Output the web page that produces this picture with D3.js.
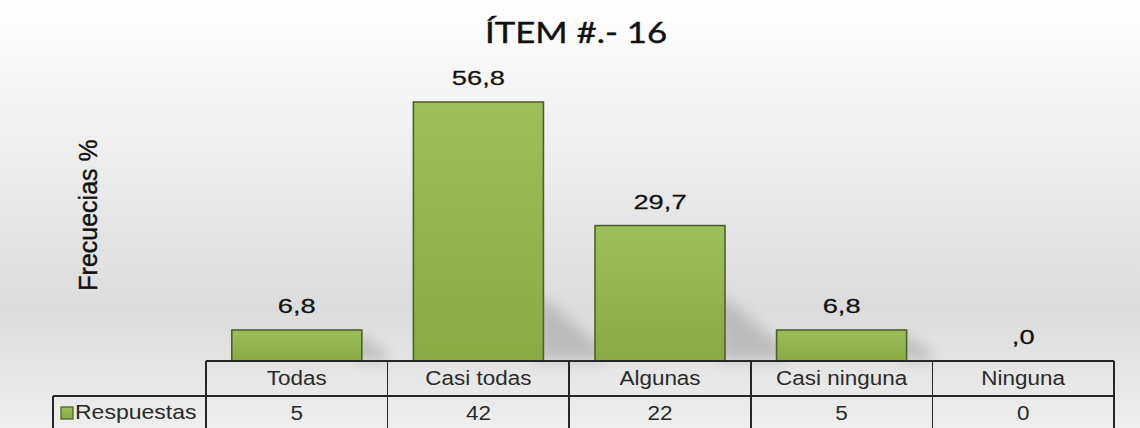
<!DOCTYPE html>
<meta charset="utf-8">
<head>
<style>
  body { margin: 0; background: #fff; }
  svg text { font-family: "Liberation Sans", Arial, sans-serif; fill: #111; }
</style>
</head>
<body>
  <script src="https://d3js.org/d3.v7.min.js"></script>
  <script>
    // datos del item 16
    var categorias = ["Todas", "Casi todas", "Algunas", "Casi ninguna", "Ninguna"];
    var porcentajes = [6.8, 56.8, 29.7, 6.8, 0.0];
    var respuestas = [5, 42, 22, 5, 0];
    var serie = "Respuestas";
    var titulo = "ÍTEM #.- 16";
    var tituloY = "Frecuecias %";

    var width = 1140, height = 428;

    var locale = d3.formatLocale({ decimal: ",", thousands: ".", grouping: [3], currency: ["", ""] });
    var fmt = function (v) { return locale.format(".1f")(v).replace(/^0,/, ","); };

    var svg = d3.select("body").append("svg")
      .attr("width", width)
      .attr("height", height);

    var defs = svg.append("defs");

    var bg = defs.append("linearGradient").attr("id", "fondo")
      .attr("x1", 0).attr("y1", 0).attr("x2", 0).attr("y2", 1);
    bg.append("stop").attr("offset", "0%").attr("stop-color", "#ffffff");
    bg.append("stop").attr("offset", "72%").attr("stop-color", "#dcdcdc");
    bg.append("stop").attr("offset", "100%").attr("stop-color", "#eeeeee");

    var verde = defs.append("linearGradient").attr("id", "verde")
      .attr("x1", 0).attr("y1", 0).attr("x2", 0).attr("y2", 1);
    verde.append("stop").attr("offset", "0%").attr("stop-color", "#9dbf5b");
    verde.append("stop").attr("offset", "100%").attr("stop-color", "#89a945");

    defs.append("filter").attr("id", "blur")
      .attr("x", "-50%").attr("y", "-50%").attr("width", "200%").attr("height", "200%")
      .append("feGaussianBlur").attr("stdDeviation", 7);

    svg.append("rect")
      .attr("width", width)
      .attr("height", height)
      .attr("fill", "url(#fondo)");

    // escalas
    var x = d3.scaleBand()
      .domain(categorias)
      .range([206, 1114])
      .paddingInner(0.284)
      .paddingOuter(0.142);

    var y = d3.scaleLinear()
      .domain([0, 60])
      .range([361, 87.4]);

    var datos = categorias.map(function (c, i) {
      return { cat: c, pct: porcentajes[i], n: respuestas[i] };
    });

    var base = y(0);

    // sombras
    svg.append("g").selectAll("path")
      .data(datos.filter(function (d) { return d.pct > 0; }))
      .enter().append("path")
      .attr("d", function (d) {
        var h = base - y(d.pct), x1 = x(d.cat) + x.bandwidth();
        var s = Math.min(h, 70);
        return "M" + (x1 - 6) + "," + (base - s * 0.95) +
          "L" + (x1 + s * 0.85) + "," + (base - s * 0.2) +
          "L" + (x1 + s * 0.85) + "," + base +
          "L" + (x1 - 6) + "," + base + "Z";
      })
      .attr("fill", "#707070")
      .attr("opacity", 0.32)
      .attr("filter", "url(#blur)");

    // barras
    svg.append("g").selectAll("rect")
      .data(datos)
      .enter().append("rect")
      .attr("x", function (d) { return x(d.cat); })
      .attr("y", function (d) { return y(d.pct); })
      .attr("width", x.bandwidth())
      .attr("height", function (d) { return base - y(d.pct); })
      .attr("fill", "url(#verde)")
      .attr("stroke", "#4f6228")
      .attr("stroke-width", 1.6);

    // etiquetas de valor
    svg.append("g").selectAll("text")
      .data(datos)
      .enter().append("text")
      .attr("transform", function (d) {
        return "translate(" + (x(d.cat) + x.bandwidth() / 2) + "," + (y(d.pct) - 17) + ") scale(1.3,1)";
      })
      .attr("text-anchor", "middle")
      .style("font-size", "21px")
      .style("stroke", "#111")
      .style("stroke-width", 0.25)
      .text(function (d) { return fmt(d.pct); });

    // titulo
    svg.append("text")
      .attr("transform", "translate(576,43) scale(1.2,1)")
      .attr("text-anchor", "middle")
      .style("font-family", "Lato, 'Open Sans', sans-serif")
      .style("font-size", "29px")
      .style("stroke", "#111")
      .style("stroke-width", 0.4)
      .text(titulo);

    // eje y
    svg.append("text")
      .attr("transform", "translate(97,215) rotate(-90)")
      .attr("text-anchor", "middle")
      .style("font-size", "25px")
      .style("stroke", "#111")
      .style("stroke-width", 0.4)
      .text(tituloY);

    // tabla de datos
    var step = x.step(), gap = step * x.paddingInner() / 2;
    var left = 206, right = 1114, leyX = 53;
    var r0 = 361, r1 = 396, r2 = 431;
    var bordes = categorias.map(function (c) { return x(c) - gap; }).concat([right]);

    var tabla = svg.append("g")
      .attr("stroke", "#262626")
      .attr("stroke-width", 1.5)
      .attr("shape-rendering", "crispEdges");

    tabla.append("line").attr("x1", left).attr("x2", right).attr("y1", r0).attr("y2", r0);
    tabla.append("line").attr("x1", leyX).attr("x2", right).attr("y1", r1).attr("y2", r1);
    tabla.append("line").attr("x1", leyX).attr("x2", right).attr("y1", r2).attr("y2", r2);
    tabla.append("line").attr("x1", leyX).attr("x2", leyX).attr("y1", r1).attr("y2", r2);
    tabla.selectAll("line.v")
      .data(bordes)
      .enter().append("line")
      .attr("class", "v")
      .attr("x1", function (d) { return d; })
      .attr("x2", function (d) { return d; })
      .attr("y1", r0)
      .attr("y2", r2);

    svg.append("g").selectAll("text")
      .data(datos)
      .enter().append("text")
      .attr("transform", function (d) {
        return "translate(" + (x(d.cat) + x.bandwidth() / 2) + ",385) scale(1.07,1)";
      })
      .attr("text-anchor", "middle")
      .style("font-size", "21px")
      .style("fill", "#2a2a2a")
      .text(function (d) { return d.cat; });

    svg.append("g").selectAll("text")
      .data(datos)
      .enter().append("text")
      .attr("transform", function (d) {
        return "translate(" + (x(d.cat) + x.bandwidth() / 2) + ",420) scale(1.07,1)";
      })
      .attr("text-anchor", "middle")
      .style("font-size", "21px")
      .style("fill", "#2a2a2a")
      .text(function (d) { return d.n; });

    // leyenda
    svg.append("rect")
      .attr("x", 61).attr("y", 407)
      .attr("width", 12).attr("height", 12)
      .attr("fill", "url(#verde)")
      .attr("stroke", "#4f6228")
      .attr("stroke-width", 1.3);

    svg.append("text")
      .attr("transform", "translate(75,419) scale(1.15,1)")
      .style("font-size", "20px")
      .style("fill", "#2a2a2a")
      .text(serie);
  </script>
</body>
</html>
